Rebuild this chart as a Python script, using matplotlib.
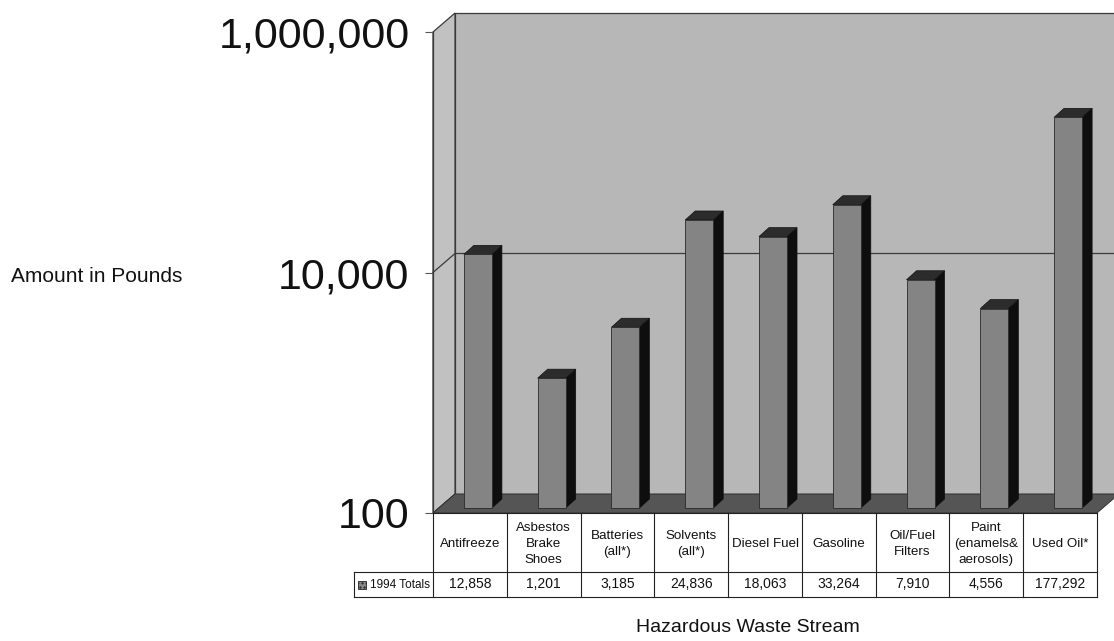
import numpy as np
import matplotlib.pyplot as plt
from matplotlib.patches import Polygon, Rectangle

# 1994 hazardous waste totals, pounds
categories = ["Antifreeze", "Asbestos\nBrake\nShoes", "Batteries\n(all*)",
              "Solvents\n(all*)", "Diesel Fuel", "Gasoline", "Oil/Fuel\nFilters",
              "Paint\n(enamels&\naerosols)", "Used Oil*"]
totals_1994 = [12858, 1201, 3185, 24836, 18063, 33264, 7910, 4556, 177292]
series_name = "1994 Totals"
y_ticks = [100, 10000, 1000000]
y_tick_labels = ["100", "10,000", "1,000,000"]

plt.rcParams['font.family'] = ['Liberation Sans', 'DejaVu Sans']

W, H = 1114, 641
fig = plt.figure(figsize=(W / 100, H / 100), dpi=100)

# plot box in pixels (front plane)
left, top, width, height = 433, 32, 664, 481
ax = fig.add_axes([left / W, 1 - (top + height) / H, width / W, height / H])
ax.set_yscale('log')
n = len(categories)
ax.set_xlim(0, n)
ax.set_ylim(y_ticks[0], y_ticks[-1])
ax.patch.set_visible(False)

px_per_col = width / n
px_per_decade = height / np.log10(y_ticks[-1] / y_ticks[0])


def shift(x, y, dx, dy):
    # move a data point by (dx, dy) screen pixels, for the fake 3D depth
    return (x + dx / px_per_col, y * 10 ** (dy / px_per_decade))


DX, DY = 22, 19
base = y_ticks[0]
ymax = y_ticks[-1]

# walls and floor
back_wall = Polygon([shift(0, base, DX, DY), shift(n, base, DX, DY),
                     shift(n, ymax, DX, DY), shift(0, ymax, DX, DY)],
                    closed=True, facecolor='#b7b7b7', edgecolor='#3a3a3a',
                    lw=0.9, clip_on=False, zorder=0)
side_wall = Polygon([(0, base), (0, ymax), shift(0, ymax, DX, DY), shift(0, base, DX, DY)],
                    closed=True, facecolor='#c1c1c1', edgecolor='#3a3a3a',
                    lw=0.9, clip_on=False, zorder=0)
floor = Polygon([(0, base), (n, base), shift(n, base, DX, DY), shift(0, base, DX, DY)],
                closed=True, facecolor='#555555', edgecolor='#2a2a2a',
                lw=0.6, clip_on=False, zorder=1)
for p in (back_wall, side_wall, floor):
    ax.add_patch(p)

# gridline at 10,000
gx = [0, shift(0, 1e4, DX, DY)[0], shift(n, 1e4, DX, DY)[0]]
gy = [1e4, shift(0, 1e4, DX, DY)[1], shift(n, 1e4, DX, DY)[1]]
ax.plot(gx, gy, color='#3a3a3a', lw=0.9, clip_on=False, zorder=1)

# bars
bar_w = 0.38
fx, fy = 8, 5      # front face offset
bx, by = 18, 14    # back face offset
for i, v in enumerate(totals_1994):
    x0 = i + 0.5 - bar_w / 2
    x1 = x0 + bar_w
    front = [shift(x0, base, fx, fy), shift(x1, base, fx, fy),
             shift(x1, v, fx, fy), shift(x0, v, fx, fy)]
    side = [shift(x1, base, fx, fy), shift(x1, base, bx, by),
            shift(x1, v, bx, by), shift(x1, v, fx, fy)]
    cap = [shift(x0, v, fx, fy), shift(x1, v, fx, fy),
           shift(x1, v, bx, by), shift(x0, v, bx, by)]
    ax.add_patch(Polygon(side, closed=True, facecolor='#0e0e0e', edgecolor='#0e0e0e',
                         lw=0.5, clip_on=False, zorder=3))
    ax.add_patch(Polygon(cap, closed=True, facecolor='#2c2c2c', edgecolor='#111111',
                         lw=0.5, clip_on=False, zorder=3))
    ax.add_patch(Polygon(front, closed=True, facecolor='#848484', edgecolor='#2a2a2a',
                         lw=0.6, clip_on=False, zorder=4))

# axis styling
for s in ('top', 'right', 'bottom'):
    ax.spines[s].set_visible(False)
ax.spines['left'].set_color('#3a3a3a')
ax.spines['left'].set_linewidth(0.9)
ax.set_xticks([])
ax.set_yticks(y_ticks)
ax.set_yticklabels(y_tick_labels)
ax.yaxis.set_minor_locator(plt.NullLocator())
ax.tick_params(axis='y', length=6, width=0.8, color='#555555', pad=11,
               labelsize=31, labelcolor='#111111')

fig.text(11 / W, 1 - 277 / H, "Amount in Pounds", ha='left', va='center',
         fontsize=15, color='#111111')
fig.text(748 / W, 1 - 628 / H, "Hazardous Waste Stream", ha='center', va='center',
         fontsize=14, color='#111111')

# data table under the plot
tab = fig.add_axes([left / W, 1 - 597 / H, width / W, 84 / H])
tab.set_xlim(0, n)
tab.set_ylim(0, 84)
tab.axis('off')

row_split = 25
cell_left = (354 - left) / px_per_col
lc = '#222222'
tab.plot([0, n], [84, 84], color=lc, lw=0.8, clip_on=False)
tab.plot([cell_left, n], [row_split, row_split], color=lc, lw=0.8, clip_on=False)
tab.plot([cell_left, n], [0, 0], color=lc, lw=0.8, clip_on=False)
tab.plot([cell_left, cell_left], [0, row_split], color=lc, lw=0.8, clip_on=False)
for k in range(n + 1):
    tab.plot([k, k], [0, 84], color=lc, lw=0.8, clip_on=False)

for i, (cat, v) in enumerate(zip(categories, totals_1994)):
    tab.text(i + 0.5, 53, cat, ha='center', va='center', fontsize=9.6,
             linespacing=1.42, color='#111111')
    tab.text(i + 0.5, row_split / 2, f"{v:,}", ha='center', va='center',
             fontsize=10, color='#111111')

# series key in the row header
key_x = (358 - left) / px_per_col
tab.add_patch(Rectangle((key_x, 8.5), 8 / px_per_col, 8, facecolor='#8a8a8a',
                        edgecolor='#222222', hatch='....', lw=0.6, clip_on=False))
tab.text((430 - left) / px_per_col, row_split / 2, series_name, ha='right', va='center',
         fontsize=8.5, color='#111111')

fig.savefig("out.png", dpi=100)
